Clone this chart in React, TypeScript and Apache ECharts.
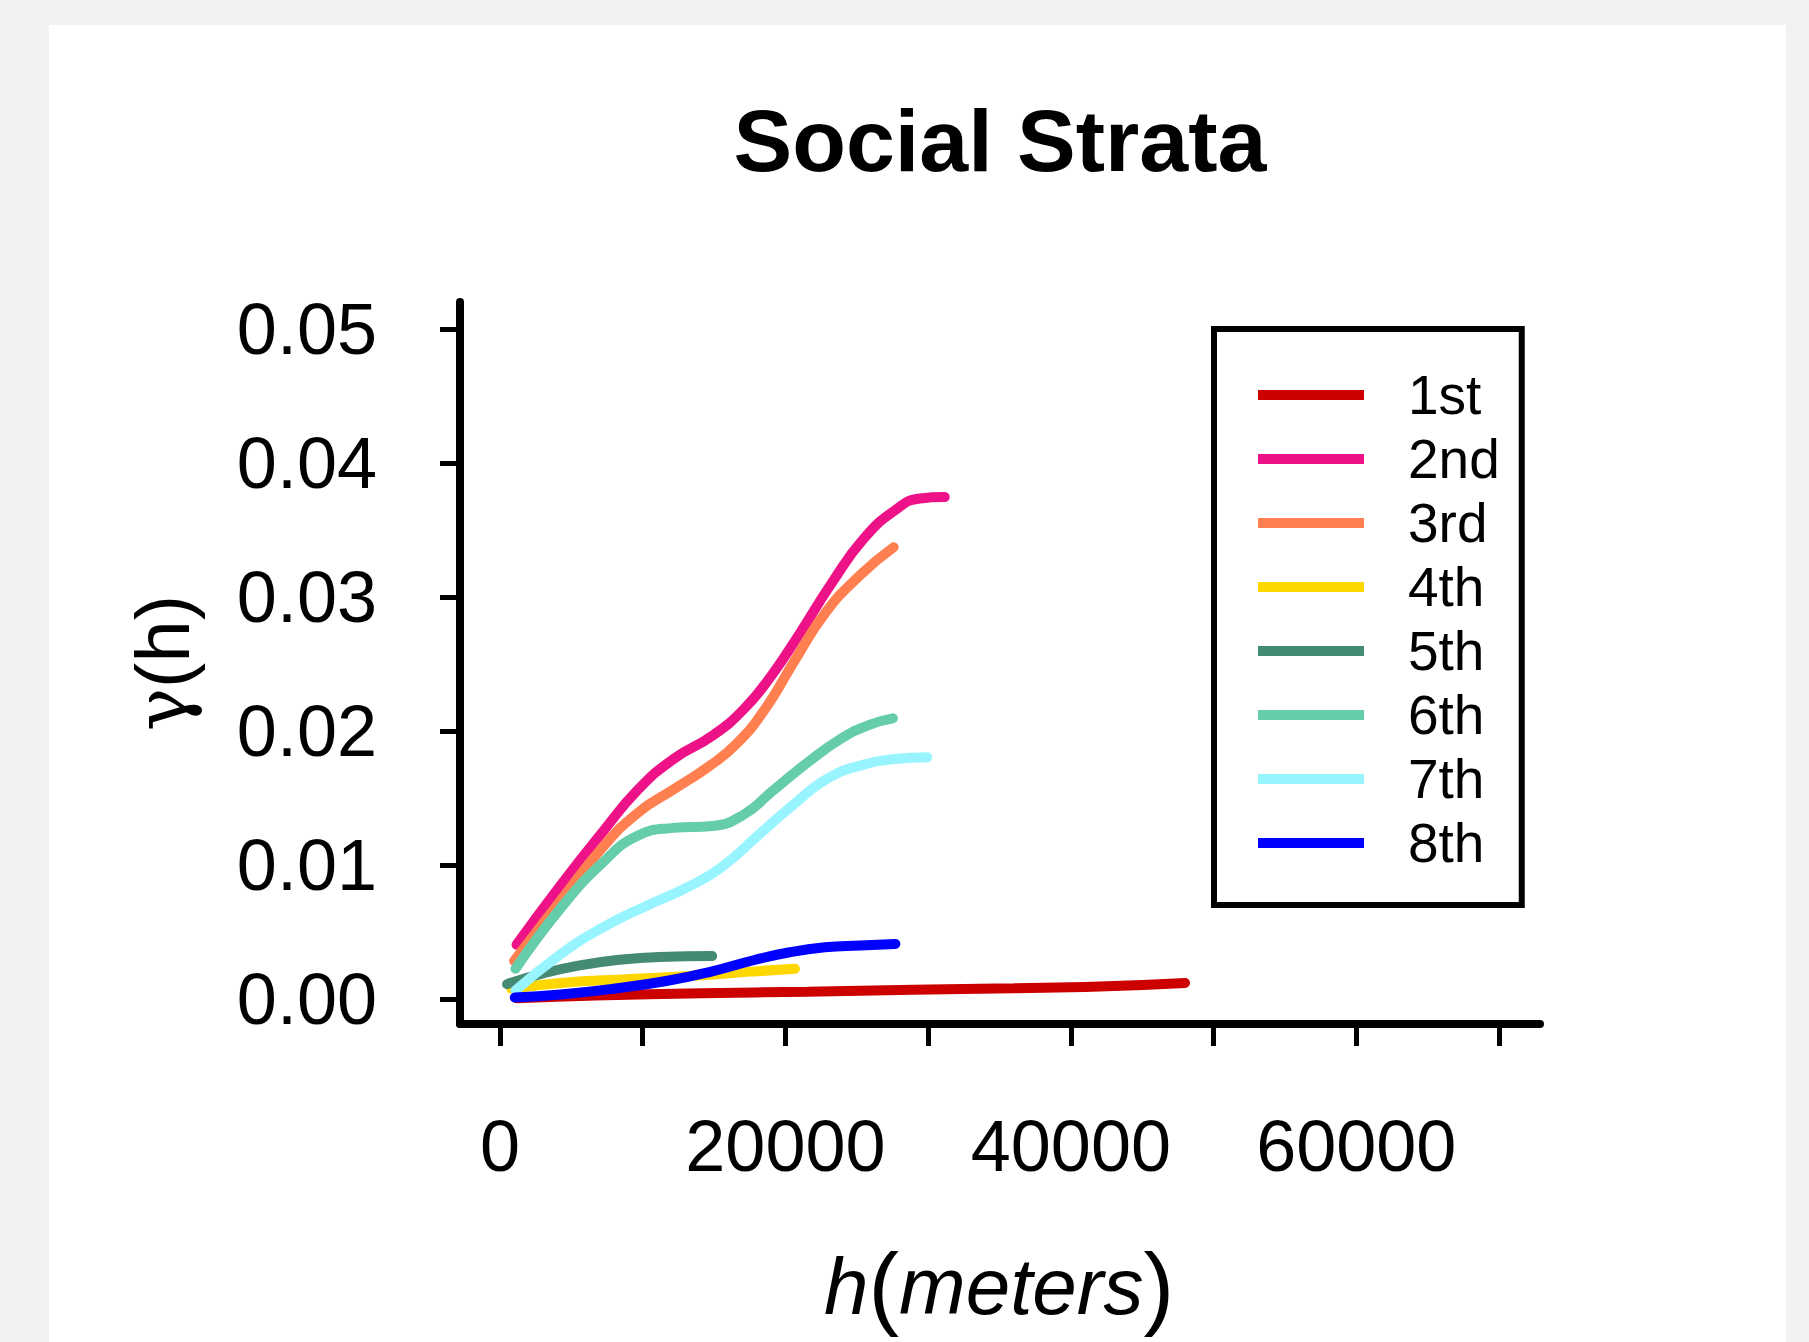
import React, { useEffect, useRef } from "react";
import * as echarts from "echarts";

const strata = ["1st", "2nd", "3rd", "4th", "5th", "6th", "7th", "8th"];
const strataColors = ["#CD0000", "#EE1289", "#FF7F50", "#FFD700", "#458B74", "#66CDAA", "#98F5FF", "#0000FF"];

const yTickValues = [0, 0.01, 0.02, 0.03, 0.04, 0.05];
const xTickValues = [0, 10000, 20000, 30000, 40000, 50000, 60000, 70000];
const xLabelValues = [0, 20000, 40000, 60000];

const stratum1 = [[1160, 0.00006], [6716, 0.00026], [14123, 0.00043], [21531, 0.00054], [28938, 0.00069], [36000, 0.0008], [42000, 0.00093], [48000, 0.0012]];
const stratum2 = [[1160, 0.00406], [4247, 0.00849], [7210, 0.01249], [9679, 0.01563], [12148, 0.0179], [14864, 0.01963], [17086, 0.02163], [19062, 0.0242], [21037, 0.02734], [23259, 0.03106], [25481, 0.03434], [27704, 0.03649], [29432, 0.03735], [31160, 0.03745]];
const stratum3 = [[988, 0.00283], [4247, 0.00734], [7210, 0.01134], [9679, 0.01391], [12148, 0.01563], [14617, 0.01734], [16593, 0.01906], [18568, 0.02163], [20543, 0.02506], [22765, 0.02877], [25235, 0.03163], [27580, 0.03371]];
const stratum4 = [[790, 0.00077], [4247, 0.0012], [9185, 0.00149], [14123, 0.00177], [17827, 0.00206], [20667, 0.00226]];
const stratum5 = [[494, 0.00111], [3012, 0.00191], [5481, 0.00249], [8198, 0.00291], [11160, 0.00314], [14864, 0.0032]];
const stratum6 = [[1086, 0.00226], [4247, 0.00677], [7210, 0.0102], [9679, 0.0122], [12148, 0.01277], [14864, 0.01291], [17086, 0.01377], [19062, 0.01549], [21531, 0.01763], [24000, 0.01949], [25975, 0.02049], [27531, 0.02094]];
const stratum7 = [[1086, 0.00063], [4247, 0.00334], [7210, 0.00534], [10173, 0.00691], [13136, 0.00834], [15605, 0.00991], [18074, 0.0122], [20543, 0.01449], [23012, 0.01649], [25481, 0.01749], [27704, 0.01791], [29926, 0.01803]];
const stratum8 = [[1037, 0.00011], [4247, 0.00034], [7951, 0.00077], [11654, 0.00134], [14864, 0.00206], [17827, 0.00291], [20296, 0.00349], [22765, 0.00386], [25235, 0.004], [27704, 0.00411]];

const strataData = [stratum1, stratum2, stratum3, stratum4, stratum5, stratum6, stratum7, stratum8];

const FONT = "'Liberation Sans', Arial, sans-serif";

export default function App() {
  const ref = useRef<HTMLDivElement>(null);

  useEffect(() => {
    document.body.style.margin = "0";
    if (!ref.current) return;
    const chart = echarts.init(ref.current, null, { renderer: "svg" });
    const option: any = {
      animation: false,
      backgroundColor: "#f2f2f2",
      grid: { left: 460, right: 269, top: 302, bottom: 318, containLabel: false },
      xAxis: {
        type: "value",
        min: -2803,
        max: 72873,
        splitLine: { show: false },
        axisLine: { show: true, onZero: false, lineStyle: { color: "#000", width: 8, cap: "round" } },
        axisTick: { show: true, customValues: xTickValues, length: 22, lineStyle: { color: "#000", width: 5 } },
        axisLabel: {
          customValues: xLabelValues,
          margin: 86,
          color: "#000",
          fontSize: 72,
          fontFamily: FONT,
          formatter: (v: number) => String(v),
        },
      },
      yAxis: {
        type: "value",
        min: -0.001866,
        max: 0.05201,
        splitLine: { show: false },
        axisLine: { show: true, onZero: false, lineStyle: { color: "#000", width: 8, cap: "round" } },
        axisTick: { show: true, customValues: yTickValues, length: 20, lineStyle: { color: "#000", width: 5 } },
        axisLabel: {
          customValues: yTickValues,
          margin: 83,
          color: "#000",
          fontSize: 72,
          fontFamily: FONT,
          formatter: (v: number) => v.toFixed(2),
        },
      },
      legend: {
        orient: "vertical",
        left: 1214,
        top: 329,
        padding: [34, 22, 30, 44],
        borderColor: "#000",
        borderWidth: 6,
        backgroundColor: "#fff",
        icon: "rect",
        itemWidth: 106,
        itemHeight: 10,
        itemGap: 0,
        textStyle: {
          color: "#000",
          fontSize: 55,
          fontFamily: FONT,
          lineHeight: 64,
          padding: [0, 0, 0, 39],
        },
        data: strata,
      },
      graphic: [
        {
          type: "rect",
          z: -100,
          silent: true,
          shape: { x: 49, y: 25, width: 1737, height: 1330 },
          style: { fill: "#ffffff" },
        },
        {
          type: "text",
          x: 1000,
          y: 140,
          style: {
            text: "Social Strata",
            fill: "#000",
            font: `bold 88px ${FONT}`,
            textAlign: "center",
            textVerticalAlign: "middle",
          },
        },
        {
          type: "text",
          x: 162,
          y: 663,
          rotation: Math.PI / 2,
          style: {
            text: "{g|γ}{n|(h)}",
            fill: "#000",
            textAlign: "center",
            textVerticalAlign: "middle",
            rich: {
              g: { fontFamily: "'DejaVu Serif', 'Liberation Serif', serif", fontSize: 72, fill: "#000" },
              n: { fontFamily: FONT, fontSize: 76, fill: "#000" },
            },
          },
        },
        {
          type: "text",
          x: 999,
          y: 1286,
          style: {
            text: "{i|h}{p|(}{i|meters}{p|)}",
            fill: "#000",
            textAlign: "center",
            textVerticalAlign: "middle",
            rich: {
              i: { fontFamily: FONT, fontStyle: "italic", fontSize: 80, fill: "#000" },
              p: { fontFamily: FONT, fontSize: 92, fill: "#000" },
            },
          },
        },
      ],
      series: strata.map((name, i) => ({
        name,
        type: "line",
        data: strataData[i],
        smooth: 0.5,
        showSymbol: false,
        symbol: "none",
        color: strataColors[i],
        lineStyle: { color: strataColors[i], width: 10, cap: "round" },
        z: 2 + i,
      })),
    };
    chart.setOption(option);
    return () => chart.dispose();
  }, []);

  return <div ref={ref} style={{ width: 1809, height: 1342 }} />;
}
